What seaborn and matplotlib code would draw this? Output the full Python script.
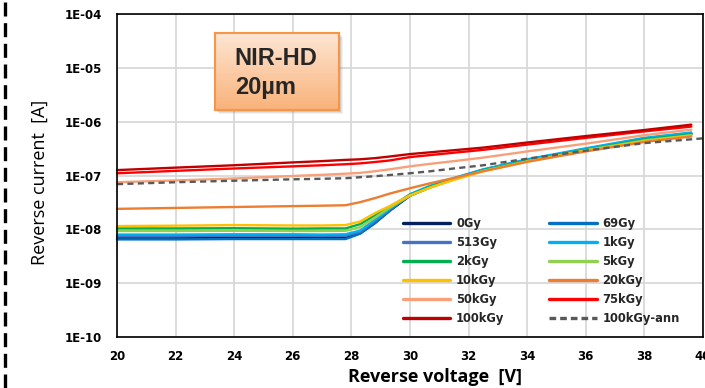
import numpy as np
import pandas as pd
import matplotlib
matplotlib.use("Agg")
import matplotlib.pyplot as plt
import seaborn as sns
from matplotlib.lines import Line2D
from matplotlib.patches import Rectangle
from matplotlib.colors import LinearSegmentedColormap
from matplotlib.ticker import FixedLocator, FuncFormatter

# Reverse voltage grid [V]
voltage = [20, 22, 24, 26, 27, 27.8, 28.3, 28.8, 29.3, 30, 30.7, 31.5, 32.5, 34, 36, 38, 39.6]
voltage_ann = voltage + [40]

# Reverse current [A] per dose
i_0gy    = [6.8e-9, 6.8e-9, 6.9e-9, 6.9e-9, 6.9e-9, 6.9e-9, 8.5e-9, 1.3e-8, 2.2e-8, 4.2e-8, 6.1e-8, 8.6e-8, 1.25e-7, 1.9e-7, 3.0e-7, 4.7e-7, 5.9e-7]
i_69gy   = [6.5e-9, 6.5e-9, 6.6e-9, 6.6e-9, 6.6e-9, 6.6e-9, 8.3e-9, 1.3e-8, 2.2e-8, 4.3e-8, 6.3e-8, 8.8e-8, 1.28e-7, 1.95e-7, 3.1e-7, 4.8e-7, 6.0e-7]
i_513gy  = [7.5e-9, 7.5e-9, 7.6e-9, 7.6e-9, 7.5e-9, 7.6e-9, 9.0e-9, 1.4e-8, 2.3e-8, 4.4e-8, 6.3e-8, 8.8e-8, 1.28e-7, 1.95e-7, 3.1e-7, 4.9e-7, 6.1e-7]
i_1kgy   = [8.0e-9, 8.0e-9, 8.1e-9, 8.1e-9, 8.0e-9, 8.1e-9, 9.5e-9, 1.5e-8, 2.4e-8, 4.5e-8, 6.5e-8, 9.0e-8, 1.3e-7, 2.0e-7, 3.2e-7, 5.0e-7, 6.3e-7]
i_2kgy   = [1.04e-8, 1.04e-8, 1.05e-8, 1.03e-8, 1.04e-8, 1.04e-8, 1.25e-8, 1.8e-8, 2.6e-8, 4.4e-8, 6.2e-8, 8.6e-8, 1.25e-7, 1.9e-7, 3.0e-7, 4.7e-7, 5.8e-7]
i_5kgy   = [9.3e-9, 9.3e-9, 9.4e-9, 9.3e-9, 9.3e-9, 9.4e-9, 1.1e-8, 1.65e-8, 2.5e-8, 4.2e-8, 6.0e-8, 8.4e-8, 1.22e-7, 1.85e-7, 2.95e-7, 4.5e-7, 5.6e-7]
i_10kgy  = [1.15e-8, 1.17e-8, 1.2e-8, 1.18e-8, 1.18e-8, 1.2e-8, 1.4e-8, 2.0e-8, 2.7e-8, 4.3e-8, 6.0e-8, 8.3e-8, 1.2e-7, 1.8e-7, 2.9e-7, 4.3e-7, 5.5e-7]
i_20kgy  = [2.4e-8, 2.5e-8, 2.6e-8, 2.7e-8, 2.75e-8, 2.8e-8, 3.2e-8, 3.8e-8, 4.6e-8, 5.8e-8, 7.2e-8, 9.0e-8, 1.2e-7, 1.8e-7, 2.8e-7, 4.2e-7, 5.3e-7]
i_50kgy  = [7.5e-8, 8.1e-8, 8.8e-8, 9.8e-8, 1.03e-7, 1.08e-7, 1.12e-7, 1.2e-7, 1.3e-7, 1.48e-7, 1.65e-7, 1.85e-7, 2.15e-7, 2.8e-7, 3.9e-7, 5.6e-7, 7.1e-7]
i_75kgy  = [1.10e-7, 1.22e-7, 1.35e-7, 1.48e-7, 1.55e-7, 1.62e-7, 1.68e-7, 1.78e-7, 1.9e-7, 2.2e-7, 2.4e-7, 2.65e-7, 3.0e-7, 3.75e-7, 5.0e-7, 6.6e-7, 8.1e-7]
i_100kgy = [1.26e-7, 1.40e-7, 1.55e-7, 1.75e-7, 1.85e-7, 1.95e-7, 2.0e-7, 2.1e-7, 2.25e-7, 2.5e-7, 2.7e-7, 2.95e-7, 3.3e-7, 4.1e-7, 5.4e-7, 7.0e-7, 8.8e-7]
i_100kgy_ann = [6.9e-8, 7.5e-8, 8.0e-8, 8.5e-8, 8.7e-8, 8.9e-8, 9.3e-8, 9.7e-8, 1.02e-7, 1.1e-7, 1.2e-7, 1.35e-7, 1.55e-7, 2.05e-7, 2.9e-7, 4.0e-7, 4.7e-7, 4.9e-7]

dose_labels = ["0Gy", "69Gy", "513Gy", "1kGy", "2kGy", "5kGy", "10kGy",
               "20kGy", "50kGy", "75kGy", "100kGy", "100kGy-ann"]
currents = [i_0gy, i_69gy, i_513gy, i_1kgy, i_2kgy, i_5kgy, i_10kgy,
            i_20kgy, i_50kgy, i_75kgy, i_100kgy, i_100kgy_ann]
colors = ["#002060", "#0070C0", "#4472C4", "#00B0F0", "#00B050", "#92D050",
          "#FFC000", "#ED7D31", "#F8A07A", "#FF0000", "#C00000", "#595959"]

y_ticks = [1e-10, 1e-9, 1e-8, 1e-7, 1e-6, 1e-5, 1e-4]
x_ticks = [20, 22, 24, 26, 28, 30, 32, 34, 36, 38, 40]

sns.set_theme(style="white")
plt.rcParams["font.family"] = ["DejaVu Sans"]

fig = plt.figure(figsize=(7.05, 3.88), dpi=100)
fig.patch.set_facecolor("white")
ax = fig.add_axes([117 / 705, 1 - 337 / 388, 586 / 705, 323 / 388])
ax.set_facecolor("white")

for lab, cur, col in zip(dose_labels, currents, colors):
    xs = voltage_ann if lab.endswith("ann") else voltage
    df = pd.DataFrame({"V": xs, "I": cur})
    ls = (0, (2.6, 1.8)) if lab.endswith("ann") else "-"
    sns.lineplot(data=df, x="V", y="I", ax=ax, color=col, lw=1.7,
                 linestyle=ls, label=lab, legend=False, clip_on=False)

ax.set_yscale("log")
ax.set_ylim(1e-10, 1e-4)
ax.set_xlim(20, 40)
ax.yaxis.set_major_locator(FixedLocator(y_ticks))
ax.yaxis.set_minor_locator(FixedLocator([]))
ax.yaxis.set_major_formatter(FuncFormatter(lambda v, p: "1E-%02d" % round(-np.log10(v))))
ax.set_xticks(x_ticks)
ax.set_xticklabels([str(t) for t in x_ticks])

ax.grid(True, color="#d9d9d9", lw=1.3)
ax.set_axisbelow(True)
for s in ax.spines.values():
    s.set_color("black")
    s.set_linewidth(1.2)
    s.set_visible(True)

ax.tick_params(axis="both", length=0, labelsize=8.5, colors="black")
ax.tick_params(axis="y", pad=11)
ax.tick_params(axis="x", pad=9)
for t in ax.get_xticklabels() + ax.get_yticklabels():
    t.set_fontweight("bold")

ax.set_xlabel("Reverse voltage  [V]", fontsize=13, fontweight="bold",
              family=["Open Sans", "DejaVu Sans"], color="black")
ax.set_ylabel("Reverse current  [A]", fontsize=13, fontweight="normal",
              family=["Open Sans", "DejaVu Sans"], color="black")
ax.xaxis.set_label_coords(0.542, -0.095)
ax.yaxis.set_label_coords(-0.116, 0.478)

# legend: rows filled left-to-right, two columns
lines = ax.get_lines()
order = [0, 2, 4, 6, 8, 10, 1, 3, 5, 7, 9, 11]
handles = [Line2D([], [], color=lines[i].get_color(), lw=2.4,
                  linestyle=lines[i].get_linestyle()) for i in order]
labels = [dose_labels[i] for i in order]
handles[-1].set_dashes((2.0, 1.2))
leg = ax.legend(handles, labels, ncol=2, loc="upper left",
                bbox_to_anchor=(403 / 705, 1 - 217 / 388),
                bbox_transform=fig.transFigure, frameon=False,
                prop={"family": "DejaVu Sans", "weight": "bold", "size": 8.3},
                handlelength=4.1, handletextpad=0.5, columnspacing=3.9,
                labelspacing=0.52, borderpad=0, borderaxespad=0)

# annotation box with gradient fill and shadow
bx, by, bw, bh = 215 / 705, 1 - 110 / 388, 124 / 705, 77 / 388
for k, a in [(4, 0.10), (3, 0.15), (2, 0.2)]:
    fig.add_artist(Rectangle((bx + k / 705, by - k / 388), bw, bh,
                             transform=fig.transFigure, facecolor="#808080",
                             edgecolor="none", alpha=a, zorder=0.5))
box = fig.add_axes([bx, by, bw, bh], zorder=1)
cmap = LinearSegmentedColormap.from_list("boxfill", ["#F9B27A", "#FDE6D3"])
grad = np.linspace(0, 1, 256).reshape(-1, 1)
box.imshow(grad, aspect="auto", cmap=cmap, origin="lower", extent=[0, 1, 0, 1])
box.set_xticks([])
box.set_yticks([])
for s in box.spines.values():
    s.set_color("#F79646")
    s.set_linewidth(1.5)
box.text(0.16, 0.675, "NIR-HD", fontsize=17, fontweight="bold",
         family=["Liberation Sans", "DejaVu Sans"], va="center", ha="left")
box.text(0.16, 0.286, "20\u00b5m", fontsize=17, fontweight="bold",
         family=["Liberation Sans", "DejaVu Sans"], va="center", ha="left")

# dashed frame edge on the left
fig.add_artist(Line2D([5 / 705, 5 / 705], [0, 1], transform=fig.transFigure,
                      color="black", lw=2.4, linestyle=(0, (4.2, 2.0))))

fig.savefig("out.png", dpi=100)
